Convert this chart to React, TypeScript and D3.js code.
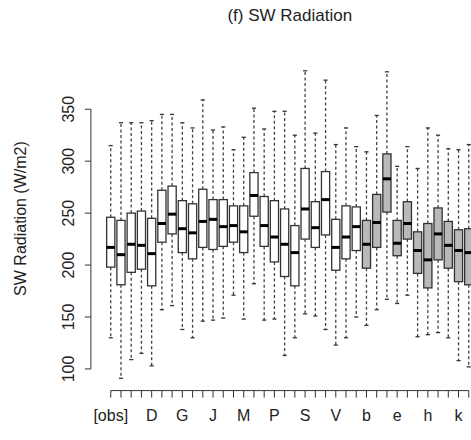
import React from "react";
import * as d3 from "d3";

const categories = [
  "[obs]", "A", "B", "C", "D", "E", "F", "G", "H", "I", "J", "K", "L", "M", "N", "O", "P", "Q", "R", "S", "T", "U", "V", "W",
  "a", "b", "c", "d", "e", "f", "g", "h", "i", "j", "k", "l",
];
const whiskerHigh = [315, 337, 337, 337, 339, 345, 345, 337, 332, 359, 330, 333, 311, 323, 351, 331, 348, 348, 325, 387, 327, 378, 316, 332, 314, 309, 344, 386, 295, 314, 293, 332, 325, 312, 311, 316];
const q3 = [246, 243, 250, 252, 245, 272, 276, 262, 259, 273, 263, 263, 257, 257, 289, 266, 262, 254, 238, 293, 261, 290, 244, 257, 256, 243, 268, 307, 243, 261, 232, 240, 255, 242, 234, 235];
const median = [217, 210, 220, 219, 211, 240, 249, 235, 231, 242, 244, 237, 238, 232, 267, 238, 227, 220, 212, 254, 236, 263, 217, 227, 237, 220, 241, 283, 221, 240, 214, 205, 230, 219, 214, 212];
const q1 = [198, 181, 193, 196, 180, 222, 230, 212, 206, 217, 215, 218, 222, 212, 247, 218, 203, 189, 180, 225, 217, 229, 195, 206, 214, 197, 217, 251, 209, 225, 192, 178, 205, 197, 184, 181];
const whiskerLow = [130, 91, 109, 115, 103, 157, 161, 138, 130, 146, 147, 149, 171, 148, 182, 147, 148, 113, 130, 153, 151, 138, 123, 130, 150, 142, 157, 167, 163, 171, 131, 133, 135, 130, 108, 102];
const greyFrom = 25;
const yTicks = [100, 150, 200, 250, 300, 350];

const W = 471;
const H = 440;
const font = "'Liberation Sans', Arial, Helvetica, sans-serif";

export default function App() {
  const n = categories.length;
  const xPad = 0.04 * n;
  const x = d3.scaleLinear().domain([0.5 - xPad, n + 0.5 + xPad]).range([90.9, 488.6]);
  const lo = d3.min(whiskerLow) as number;
  const hi = d3.max(whiskerHigh) as number;
  const pad = 0.04 * (hi - lo);
  const y = d3.scaleLinear().domain([lo - pad, hi + pad]).range([390.6, 58.5]);
  const unit = x(2) - x(1);
  const bw = 0.8 * unit;
  const sw = 0.4 * unit;
  const axisY = y.range()[0];
  const axisX = x.range()[0];
  const shown = (i: number) => i === 0 || (i % 3 === 1 && i > 1);
  const ink = "#333";

  return (
    <svg width={W} height={H} style={{ position: "absolute", left: 0, top: 0, background: "#fff" }}>
      <rect x={0} y={0} width={W} height={H} fill="#fff" />
      <text x={(x.range()[0] + x.range()[1]) / 2} y={21} textAnchor="middle" fontFamily={font} fontSize={17} fill="#222">
        (f) SW Radiation
      </text>
      {categories.map((c, i) => {
        const cx = x(i + 1);
        const fill = i >= greyFrom ? "#b9b9b9" : "#fff";
        return (
          <g key={c + i}>
            <line x1={cx} x2={cx} y1={y(q3[i])} y2={y(whiskerHigh[i])} stroke="#444" strokeWidth={1.3} strokeDasharray="3,2.5" />
            <line x1={cx} x2={cx} y1={y(q1[i])} y2={y(whiskerLow[i])} stroke="#444" strokeWidth={1.3} strokeDasharray="3,2.5" />
            <line x1={cx - sw / 2} x2={cx + sw / 2} y1={y(whiskerHigh[i])} y2={y(whiskerHigh[i])} stroke={ink} strokeWidth={1.3} />
            <line x1={cx - sw / 2} x2={cx + sw / 2} y1={y(whiskerLow[i])} y2={y(whiskerLow[i])} stroke={ink} strokeWidth={1.3} />
            <rect x={cx - bw / 2} y={y(q3[i])} width={bw} height={y(q1[i]) - y(q3[i])} fill={fill} stroke={ink} strokeWidth={1.3} />
            <line x1={cx - bw / 2} x2={cx + bw / 2} y1={y(median[i])} y2={y(median[i])} stroke="#000" strokeWidth={3} />
          </g>
        );
      })}
      <line x1={axisX} x2={axisX} y1={y(yTicks[0])} y2={y(yTicks[yTicks.length - 1])} stroke={ink} strokeWidth={1} />
      {yTicks.map((t) => (
        <g key={t}>
          <line x1={axisX} x2={axisX - 6} y1={y(t)} y2={y(t)} stroke={ink} strokeWidth={1} />
          <text transform={`translate(${axisX - 17},${y(t)}) rotate(-90)`} textAnchor="middle" fontFamily={font} fontSize={16} fill="#222">
            {t}
          </text>
        </g>
      ))}
      <text transform={`translate(26,${(y.range()[0] + y.range()[1]) / 2 - 6}) rotate(-90)`} textAnchor="middle" fontFamily={font} fontSize={16} fill="#222">
        SW Radiation (W/m2)
      </text>
      <line x1={x(1)} x2={x(n)} y1={axisY} y2={axisY} stroke={ink} strokeWidth={1} />
      {categories.map((c, i) => (
        <g key={"t" + i}>
          <line x1={x(i + 1)} x2={x(i + 1)} y1={axisY} y2={axisY + 7} stroke={ink} strokeWidth={1} />
          {shown(i) && (
            <text x={x(i + 1)} y={axisY + 30} textAnchor="middle" fontFamily={font} fontSize={16} fill="#222">
              {c}
            </text>
          )}
        </g>
      ))}
    </svg>
  );
}
